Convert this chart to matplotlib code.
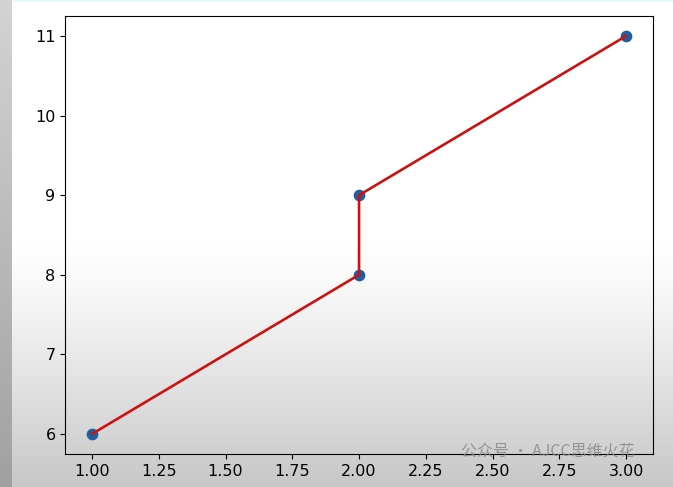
import numpy as np
import matplotlib
matplotlib.use("Agg")
import matplotlib.pyplot as plt

# data points
x = [1, 2, 2, 3]
y = [6, 8, 9, 11]
watermark = "公众号 · AJCC思维火花"

plt.rcParams['font.family'] = ['DejaVu Sans', 'Noto Sans CJK SC']

fig = plt.figure(figsize=(6.73, 4.87), dpi=100)

# screenshot-like background: white top fading to grey at the bottom
h, w = 487, 673
rows = np.linspace(0, 1, h)
shade = np.where(rows < 0.5, 1.0, 1.0 - 0.22 * ((rows - 0.5) / 0.5) ** 1.2)
bg = np.repeat(shade[:, None], w, axis=1)
bg[:, :12] = (0.83 - 0.2 * rows)[:, None]
img = np.dstack([bg, bg, bg])
img[:2, 12:, :] = [0.9, 0.98, 0.99]
bax = fig.add_axes([0, 0, 1, 1], zorder=-1)
bax.imshow(img, aspect='auto', extent=[0, 1, 0, 1])
bax.axis('off')

ax = fig.add_axes([0.097, 0.068, 0.873, 0.899])
ax.patch.set_alpha(0)
ax.scatter(x, y, color='#1f5fa0', s=55, zorder=2)
ax.plot(x, y, color='#cc1111', lw=1.9, zorder=3)
ax.tick_params(labelsize=11.5)

fig.text(0.685, 0.072, watermark, color='#8a8a8a', fontsize=11.5,
         family=['Noto Sans CJK SC', 'DejaVu Sans'], alpha=0.85, va='center')

fig.savefig("out.png", dpi=100)
